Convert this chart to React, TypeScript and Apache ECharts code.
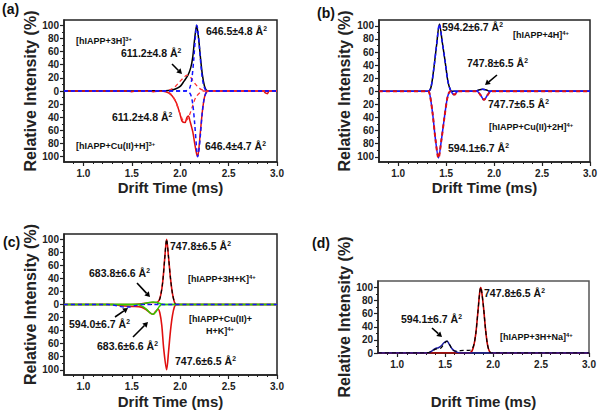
import React, { useEffect, useRef } from 'react';
import * as echarts from 'echarts';

const FONT = '"Liberation Sans", Arial, Helvetica, sans-serif';

// tick values
const xMajor = [1.0, 1.5, 2.0, 2.5, 3.0];
const xMinor = [0.9, 1.1, 1.2, 1.3, 1.4, 1.6, 1.7, 1.8, 1.9, 2.1, 2.2, 2.3, 2.4, 2.6, 2.7, 2.8, 2.9];
const yMajorSym = [-100, -80, -60, -40, -20, 0, 20, 40, 60, 80, 100];
const yMinorSym = [-90, -70, -50, -30, -10, 10, 30, 50, 70, 90];
const yMajorPos = [0, 20, 40, 60, 80, 100];
const yMinorPos = [10, 30, 50, 70, 90];

// ---- panel (a) ----
const aTopExp = [[0.8,0],[1.5,0],[1.7,0.5],[1.85,0.5],[1.9,1],[1.95,3],[2.0,7],[2.04,15],[2.08,24],[2.11,36],[2.13,52],[2.15,80],[2.17,100],[2.19,80],[2.21,50],[2.23,24],[2.25,8],[2.27,1],[2.3,0],[3.0,0]];
const aTopFit646 = [[0.8,0],[2.05,0],[2.08,2],[2.1,5],[2.12,18],[2.14,48],[2.16,88],[2.17,100],[2.18,95],[2.2,65],[2.22,30],[2.24,10],[2.26,2],[2.28,0],[3.0,0]];
const aTopFit611 = [[0.8,0],[1.85,0],[1.9,2],[1.95,7],[2.0,15],[2.04,21],[2.07,24],[2.1,22],[2.13,16],[2.16,10],[2.2,4],[2.24,1],[2.28,0],[3.0,0]];
const aBotExp = [[0.8,0],[1.45,0],[1.5,-1],[1.55,0],[1.68,0],[1.72,-1],[1.8,0],[1.85,-1],[1.88,-3],[1.92,-8],[1.96,-18],[2.0,-36],[2.02,-46],[2.05,-48],[2.07,-40],[2.085,-38],[2.1,-45],[2.13,-62],[2.15,-80],[2.17,-96],[2.18,-99],[2.19,-92],[2.21,-60],[2.23,-30],[2.25,-10],[2.27,-2],[2.3,0],[2.86,0],[2.88,-3],[2.9,-4],[2.92,0],[3.0,0]];
const aBotFit646 = [[0.8,0],[2.06,0],[2.09,-2],[2.11,-6],[2.13,-20],[2.15,-50],[2.17,-88],[2.18,-100],[2.19,-95],[2.21,-65],[2.23,-30],[2.25,-10],[2.27,-2],[2.29,0],[3.0,0]];
const aBotFit611 = [[0.8,0],[1.85,0],[1.9,-4],[1.95,-15],[2.0,-35],[2.04,-46],[2.07,-44],[2.1,-35],[2.13,-22],[2.16,-10],[2.2,-3],[2.24,0],[3.0,0]];

// ---- panel (b) ----
const bTopExp = [[0.8,0],[1.31,0],[1.34,5],[1.37,33],[1.4,70],[1.43,103],[1.46,75],[1.49,45],[1.52,14],[1.545,2],[1.56,0],[1.8,0],[1.84,2],[1.88,3],[1.92,2],[1.96,0],[3.0,0]];
const bTopFit = [[0.8,0],[1.31,0],[1.34,5],[1.37,33],[1.4,70],[1.43,103],[1.46,75],[1.49,45],[1.52,14],[1.545,2],[1.56,0],[1.8,0],[1.84,2],[1.88,3],[1.92,2],[1.96,0],[3.0,0]];
const bBotExp = [[0.8,0],[1.31,0],[1.33,-5],[1.36,-35],[1.39,-75],[1.42,-102],[1.45,-75],[1.48,-42],[1.51,-12],[1.53,-2],[1.55,0],[1.57,-4],[1.59,-5],[1.61,-1],[1.63,0],[1.82,0],[1.86,-6],[1.895,-13],[1.93,-6],[1.97,0],[3.0,0]];
const bBotFit = [[0.8,0],[1.31,0],[1.33,-5],[1.36,-35],[1.39,-75],[1.42,-102],[1.45,-75],[1.48,-42],[1.51,-12],[1.53,-2],[1.55,0],[1.57,-4],[1.59,-5],[1.61,-1],[1.63,0],[1.82,0],[1.86,-6],[1.895,-13],[1.93,-6],[1.97,0],[3.0,0]];

// ---- panel (c) ----
const cTopExp = [[0.8,0],[1.5,0],[1.6,1],[1.7,3],[1.75,3],[1.78,6],[1.8,15],[1.82,35],[1.84,70],[1.86,100],[1.88,72],[1.9,40],[1.92,17],[1.94,4],[1.96,0],[3.0,0]];
const cTopFit747 = [[0.8,0],[1.76,0],[1.78,4],[1.8,15],[1.82,35],[1.84,70],[1.86,100],[1.88,72],[1.9,40],[1.92,17],[1.94,4],[1.96,0],[3.0,0]];
const cTopFit683 = [[0.8,0],[1.55,0],[1.62,1],[1.68,3],[1.72,4],[1.76,3],[1.8,1],[1.83,0],[3.0,0]];
const cBotExp = [[0.8,0],[1.3,0],[1.4,-2],[1.5,-3],[1.6,-4],[1.65,-8],[1.7,-14],[1.72,-15],[1.75,-10],[1.77,-7],[1.79,-13],[1.81,-32],[1.83,-68],[1.86,-100],[1.88,-72],[1.9,-40],[1.92,-17],[1.94,-4],[1.96,0],[3.0,0]];
const cBotFit683 = [[0.8,0],[1.55,0],[1.6,-2],[1.65,-7],[1.69,-13],[1.72,-15],[1.75,-11],[1.78,-4],[1.81,0],[3.0,0]];
const cBotFit594 = [[0.8,0],[1.25,0],[1.35,-2],[1.42,-4],[1.47,-4],[1.53,-2],[1.6,0],[3.0,0]];

// ---- panel (d) ----
const dExp = [[0.8,0],[1.3,0],[1.35,2],[1.4,6],[1.45,7],[1.5,16],[1.52,18],[1.55,12],[1.58,4],[1.62,3],[1.7,4],[1.75,4],[1.78,6],[1.8,13],[1.82,30],[1.84,60],[1.86,92],[1.87,100],[1.88,95],[1.9,70],[1.92,38],[1.94,14],[1.96,3],[1.98,0],[3.0,0]];
const dFit747 = [[0.8,0],[1.75,0],[1.78,3],[1.8,12],[1.82,30],[1.84,60],[1.86,92],[1.87,100],[1.88,95],[1.9,70],[1.92,38],[1.94,14],[1.96,3],[1.98,0],[3.0,0]];
const dFit594 = [[0.8,0],[1.32,0],[1.36,3],[1.4,7],[1.43,8],[1.46,11],[1.49,16],[1.52,18],[1.54,14],[1.57,7],[1.6,3],[1.63,1],[1.66,0],[3.0,0]];

const grids = [
  { left: 64, top: 20, width: 213, height: 142 },
  { left: 379, top: 20, width: 211, height: 142 },
  { left: 64, top: 234, width: 213, height: 141 },
  { left: 378, top: 281, width: 211, height: 72 },
];
const gridBorder = ['#222', '#222', '#222', '#555'];
const yRanges = [[-108, 108], [-108, 109], [-108, 108], [0, 110]];
const yNameGap = [23, 27, 23, 26];
const xNameGap = [18, 18, 19, 41];

const AX = '#222';
const BLUE = '#1414ff';
const RED = '#e01010';
const GREEN = '#33cc00';

function App() {
  const ref = useRef<HTMLDivElement>(null);
  useEffect(() => {
    if (!ref.current) return;
    const chart = echarts.init(ref.current, null, { renderer: 'svg' });

    const xAxes: any[] = [];
    const yAxes: any[] = [];
    grids.forEach((g, i) => {
      const symmetric = yRanges[i][0] < 0;
      xAxes.push({
        gridIndex: i, type: 'value', min: 0.8, max: 3.0, position: 'bottom',
        axisLine: { show: true, onZero: false, lineStyle: { color: AX, width: 1.5 } },
        axisTick: { show: true, customValues: xMajor, length: 4, lineStyle: { color: AX, width: 1.2 } },
        axisLabel: { show: true, customValues: xMajor, formatter: (v: number) => v.toFixed(1), fontSize: 10, fontWeight: 'bold', color: AX, fontFamily: FONT, margin: 6 },
        splitLine: { show: false },
        name: 'Drift Time (ms)', nameLocation: 'middle', nameGap: xNameGap[i],
        nameTextStyle: { fontSize: 15, fontWeight: 'bold', color: AX, fontFamily: FONT },
      });
      xAxes.push({
        gridIndex: i, type: 'value', min: 0.8, max: 3.0, position: 'bottom',
        axisLine: { show: false, onZero: false },
        axisTick: { show: true, customValues: xMinor, length: 2, lineStyle: { color: AX, width: 1 } },
        axisLabel: { show: false }, splitLine: { show: false },
      });
      yAxes.push({
        gridIndex: i, type: 'value', min: yRanges[i][0], max: yRanges[i][1], position: 'left',
        axisLine: { show: true, onZero: false, lineStyle: { color: AX, width: 1.5 } },
        axisTick: { show: true, customValues: symmetric ? yMajorSym : yMajorPos, length: 4, lineStyle: { color: AX, width: 1.2 } },
        axisLabel: { show: true, customValues: symmetric ? yMajorSym : yMajorPos, formatter: (v: number) => String(Math.abs(v)), fontSize: 10, fontWeight: 'bold', color: AX, fontFamily: FONT, margin: 5 },
        splitLine: { show: false },
        name: 'Relative Intensity (%)', nameLocation: 'middle', nameGap: yNameGap[i],
        nameTextStyle: { fontSize: 16, fontWeight: 'bold', color: AX, fontFamily: FONT },
      });
      yAxes.push({
        gridIndex: i, type: 'value', min: yRanges[i][0], max: yRanges[i][1], position: 'left',
        axisLine: { show: false, onZero: false },
        axisTick: { show: true, customValues: symmetric ? yMinorSym : yMinorPos, length: 2, lineStyle: { color: AX, width: 1 } },
        axisLabel: { show: false }, splitLine: { show: false },
      });
    });

    const ln = (data: number[][], gi: number, color: string, dashed = false, width = 1.5, z = 2) => ({
      type: 'line', xAxisIndex: 2 * gi, yAxisIndex: 2 * gi, data,
      showSymbol: false, symbol: 'none', smooth: 0.3, silent: true, z,
      lineStyle: { color, width, type: dashed ? [4, 3] : 'solid' },
    });

    const series = [
      // a
      ln(aTopExp, 0, '#000', false, 1.5, 2),
      ln(aBotExp, 0, RED, false, 1.5, 2),
      ln(aTopFit611, 0, '#ff3030', true, 1.3, 3),
      ln(aBotFit611, 0, '#ff3030', true, 1.3, 3),
      ln(aTopFit646, 0, BLUE, true, 1.5, 4),
      ln(aBotFit646, 0, BLUE, true, 1.5, 4),
      // b
      ln(bTopExp, 1, '#000', false, 1.5, 2),
      ln(bBotExp, 1, BLUE, false, 1.5, 2),
      ln(bTopFit, 1, BLUE, true, 1.5, 3),
      ln(bBotFit, 1, RED, true, 2, 4),
      // c
      ln(cTopExp, 2, RED, false, 1.6, 2),
      ln(cBotExp, 2, RED, false, 1.6, 2),
      ln(cTopFit747, 2, '#000', true, 1.2, 3),
      ln(cTopFit683, 2, GREEN, false, 1.5, 3),
      ln(cBotFit683, 2, GREEN, false, 1.5, 3),
      ln(cBotFit594, 2, BLUE, true, 1.5, 4),
      // d
      ln(dFit747, 3, '#c00000', false, 1.6, 2),
      ln(dFit594, 3, '#1a1aa0', false, 1.5, 2),
      ln(dExp, 3, '#000', true, 1.2, 3),
    ];

    const ann = (x: number, y: number, main: string, sup: string, size = 10.5, align = 'left') => ({
      type: 'text', x, y, z: 100,
      style: {
        text: `{m|${main}}{s|${sup}}`,
        align, verticalAlign: 'middle', fill: '#111',
        rich: {
          m: { fontSize: size, fontWeight: 'bold', fontFamily: FONT, fill: '#111', lineHeight: size + 2 },
          s: { fontSize: size * 0.65, fontWeight: 'bold', fontFamily: FONT, fill: '#111', verticalAlign: 'top', lineHeight: size * 0.7 },
        },
      },
    });
    const arrow = (x1: number, y1: number, x2: number, y2: number) => {
      const ang = Math.atan2(y2 - y1, x2 - x1);
      const hl = 5, hw = 3;
      const bx = x2 - hl * Math.cos(ang), by = y2 - hl * Math.sin(ang);
      const px = -Math.sin(ang) * hw, py = Math.cos(ang) * hw;
      return [
        { type: 'line', z: 100, shape: { x1, y1, x2: bx, y2: by }, style: { stroke: '#000', lineWidth: 1.6 } },
        { type: 'polygon', z: 100, shape: { points: [[x2, y2], [bx + px, by + py], [bx - px, by - py]] }, style: { fill: '#000' } },
      ];
    };
    const panel = (x: number, y: number, t: string) => ({
      type: 'text', x, y, z: 100,
      style: { text: t, fontSize: 14, fontWeight: 'bold', fontFamily: FONT, fill: '#111', verticalAlign: 'middle' },
    });

    const graphic: any[] = [
      panel(2, 9, '(a)'), panel(317, 13, '(b)'), panel(3, 242, '(c)'), panel(312, 243, '(d)'),
      // a
      ann(76, 41, '[hIAPP+3H]', '3+', 9),
      ann(121, 53, '611.2±4.8 Å', '2'),
      ...arrow(172, 64, 182, 74),
      ann(206, 31, '646.5±4.8 Å', '2'),
      ann(112, 117, '611.2±4.8 Å', '2'),
      ann(76, 146, '[hIAPP+Cu(II)+H]', '3+', 9),
      ann(205, 146, '646.4±4.7 Å', '2'),
      // b
      ann(442, 27, '594.2±6.7 Å', '2'),
      ann(513, 35, '[hIAPP+4H]', '4+', 9),
      ann(467, 63, '747.8±6.5 Å', '2'),
      ...arrow(497, 75, 485, 85),
      ann(488, 104, '747.7±6.5 Å', '2'),
      ann(489, 127, '[hIAPP+Cu(II)+2H]', '4+', 9),
      ann(448, 148, '594.1±6.7 Å', '2'),
      // c
      ann(170, 246, '747.8±6.5 Å', '2'),
      ann(89, 273, '683.8±6.6 Å', '2'),
      ...arrow(137, 283, 150, 297),
      ann(188, 279, '[hIAPP+3H+K]', '4+', 9),
      ann(69, 324, '594.0±6.7 Å', '2'),
      ...arrow(115, 317, 128, 308),
      ann(97, 346, '683.6±6.6 Å', '2'),
      ...arrow(133, 337, 148, 322),
      ann(189, 319, '[hIAPP+Cu(II)+', '', 9),
      ann(220, 331, 'H+K]', '4+', 9, 'center'),
      ann(175, 361, '747.6±6.5 Å', '2'),
      // d
      ann(484, 293, '747.8±6.5 Å', '2'),
      ann(401, 319, '594.1±6.7 Å', '2'),
      ...arrow(432, 328, 442, 337),
      ann(500, 337, '[hIAPP+3H+Na]', '4+', 9),
    ];

    chart.setOption({
      animation: false,
      backgroundColor: '#fff',
      textStyle: { fontFamily: FONT },
      grid: grids.map((g, i) => ({ ...g, show: true, borderColor: gridBorder[i], borderWidth: 1.5, backgroundColor: 'transparent', containLabel: false })),
      xAxis: xAxes,
      yAxis: yAxes,
      series,
      graphic,
    });
    return () => chart.dispose();
  }, []);
  return <div ref={ref} style={{ position: 'fixed', left: 0, top: 0, width: 600, height: 413, background: '#fff' }} />;
}

export default App;
